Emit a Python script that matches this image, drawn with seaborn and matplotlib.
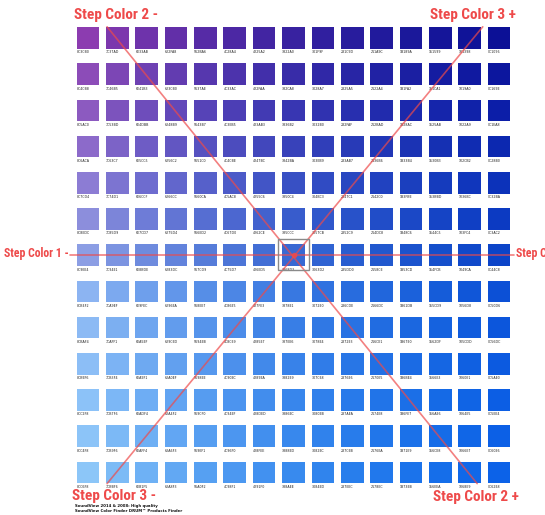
import matplotlib
matplotlib.use("Agg")
import matplotlib.pyplot as plt
import seaborn as sns
from matplotlib import font_manager
from matplotlib.patches import Rectangle

# Swatch colours, one list per row (top to bottom), 15 columns each
row_00 = ["#8C3CB0", "#7C37AD", "#6E33AB", "#622FA8", "#562BA6", "#4C28A4", "#4225A2", "#3822A0", "#301F9F", "#281C9D", "#211A9C", "#1B189A", "#151599", "#101398", "#0C1096"]
row_01 = ["#8C4CB8", "#7C46B5", "#6E41B3", "#623CB0", "#5637AE", "#4C33AC", "#422FAA", "#382CA8", "#3028A7", "#2825A5", "#2122A4", "#1B1FA2", "#151CA1", "#1019A0", "#0C169E"]
row_02 = ["#8C5AC0", "#7C53BD", "#6E4DBB", "#6248B9", "#5643B7", "#4C3EB5", "#423AB3", "#3836B2", "#3032B0", "#282FAF", "#212BAD", "#1B28AC", "#1525AB", "#1022A9", "#0C1EA8"]
row_03 = ["#8C6ACA", "#7C63C7", "#6E5CC5", "#6256C2", "#5651C0", "#4C4CBE", "#4247BC", "#3842BA", "#303EB9", "#283AB7", "#2136B6", "#1B33B4", "#1530B3", "#102CB2", "#0C28B0"]
row_04 = ["#8C7CD4", "#7C74D1", "#6E6CCF", "#6266CC", "#5660CA", "#4C5AC8", "#4255C6", "#3850C4", "#304BC3", "#2847C1", "#2142C0", "#1B3FBE", "#153BBD", "#1036BC", "#0C32BA"]
row_05 = ["#8C8EDC", "#7C85D9", "#6E7CD7", "#6275D4", "#566ED2", "#4C67D0", "#4262CE", "#385CCC", "#3057CB", "#2852C9", "#214DC8", "#1B48C6", "#1544C5", "#103FC4", "#0C3AC2"]
row_06 = ["#8C9EE4", "#7C94E1", "#6E8BDE", "#6283DC", "#567CD9", "#4C75D7", "#426ED5", "#3868D3", "#3063D2", "#285DD0", "#2158CE", "#1B53CD", "#154FCB", "#1049CA", "#0C44C8"]
row_07 = ["#8CB4F2", "#7CA9EF", "#6E9FEC", "#6296EA", "#568EE7", "#4C86E5", "#427FE3", "#3878E1", "#3072E0", "#286CDE", "#2166DC", "#1B61DB", "#155CD9", "#1056D8", "#0C50D6"]
row_08 = ["#8CBAF4", "#7CAFF1", "#6EA5EF", "#629CED", "#5694EB", "#4C8CE9", "#4285E7", "#387EE6", "#3078E4", "#2872E3", "#216CE1", "#1B67E0", "#1562DF", "#105CDD", "#0C56DC"]
row_09 = ["#8CBEF6", "#7CB3F4", "#6EA9F1", "#62A0EF", "#5698EE", "#4C90EC", "#4289EA", "#3882E9", "#307CE8", "#2876E6", "#2170E5", "#1B6BE4", "#1566E3", "#1060E1", "#0C5AE0"]
row_10 = ["#8CC2F8", "#7CB7F6", "#6EADF4", "#62A4F2", "#569CF0", "#4C94EF", "#428DED", "#3886EC", "#3080EB", "#287AEA", "#2174E8", "#1B6FE7", "#156AE6", "#1064E5", "#0C5EE4"]
row_11 = ["#8CC4F8", "#7CB9F6", "#6EAFF4", "#62A6F3", "#569EF1", "#4C96F0", "#428FEE", "#3888ED", "#3082EC", "#287CEB", "#2176EA", "#1B71E9", "#156CE8", "#1066E7", "#0C60E6"]
row_12 = ["#8CC6F8", "#7CBBF6", "#6EB1F5", "#62A8F3", "#56A0F2", "#4C98F1", "#4291F0", "#388AEE", "#3084ED", "#287EEC", "#2178EC", "#1B73EB", "#156EEA", "#1068E9", "#0C62E8"]

swatch_rows = [row_00, row_01, row_02, row_03, row_04, row_05, row_06,
               row_07, row_08, row_09, row_10, row_11, row_12]

center_row, center_col = 6, 7

step_labels = {
    "c2_minus": "Step Color 2 -",
    "c3_plus": "Step Color 3 +",
    "c1_minus": "Step Color 1 -",
    "c1_plus": "Step Color 1 +",
    "c3_minus": "Step Color 3 -",
    "c2_plus": "Step Color 2 +",
}
footer_lines = ["SoundView 2014 & 2008: High quality",
                "SoundView Color Finder DRUM\u2122 Products Finder"]

sns.set_theme(style="white")

# prefer a narrow bold face for the step labels if one is installed
installed = {f.name for f in font_manager.fontManager.ttflist}
narrow = [n for n in ("Liberation Sans Narrow", "Roboto Condensed", "Open Sans Condensed",
                      "DejaVu Sans Condensed", "Noto Sans Condensed") if n in installed]
if narrow:
    label_font = [narrow[0], "DejaVu Sans"]
    big, small = 11, 8.5
else:
    label_font = ["Liberation Sans", "DejaVu Sans"]
    big, small = 10, 7.8
red = "#EE4A4A"

fig = plt.figure(figsize=(5.45, 5.15), dpi=100)
fig.patch.set_facecolor("white")
ax = fig.add_axes([0, 0, 1, 1])
ax.set_axis_off()

# swatch grid
sw_w, sw_h = 0.77, 0.6
for i, row in enumerate(swatch_rows):
    cols = list(range(len(row)))
    ax.bar(cols, sw_h, bottom=[i - sw_h / 2] * len(row), width=sw_w,
           color=row, edgecolor="none", zorder=2)
    for j, hexcol in enumerate(row):
        ax.text(j - sw_w / 2, i + sw_h / 2 + 0.04, hexcol.lstrip("#"),
                fontsize=2.3, color="#222222", ha="left", va="top", zorder=3)

ax.set_xlim(-2.997, 15.565)
ax.set_ylim(13.177, -1.050)

# guide lines through the centre swatch
dx, dy = 6.35, 6.31
ax.plot([center_col - dx, center_col + dx * 0.985], [center_row - dy, center_row + dy],
        color=red, lw=1.2, alpha=0.7, zorder=4)
ax.plot([center_col - dx, center_col + dx * 1.015], [center_row + dy, center_row - dy],
        color=red, lw=1.2, alpha=0.7, zorder=4)
ax.plot([-0.62, 14.52], [center_row, center_row], color=red, lw=1.2, alpha=0.7, zorder=4)

ax.add_patch(Rectangle((center_col - 0.53, center_row - 0.46), 1.06, 0.88,
                       fill=False, edgecolor="#8A8A8A", lw=1.0, zorder=5))
ax.plot([center_col], [center_row], marker="o", ms=3, color=red, alpha=0.8, zorder=6)

W, H = 545, 515
def ftext(px, py, s, size, **kw):
    fig.text(px / W, 1 - py / H, s, fontsize=size, ha="left", va="center", **kw)

ftext(74, 15, step_labels["c2_minus"], big, color=red, fontweight="bold", family=label_font)
ftext(430, 15, step_labels["c3_plus"], big, color=red, fontweight="bold", family=label_font)
ftext(4, 253, step_labels["c1_minus"], small, color=red, fontweight="bold", family=label_font)
ftext(516, 253, step_labels["c1_plus"], small, color=red, fontweight="bold", family=label_font)
ftext(72, 496, step_labels["c3_minus"], big, color=red, fontweight="bold", family=label_font)
ftext(433, 497, step_labels["c2_plus"], big, color=red, fontweight="bold", family=label_font)

ftext(75, 506, footer_lines[0], 2.8, color="#111111", fontweight="bold")
ftext(75, 511, footer_lines[1], 2.8, color="#111111", fontweight="bold")

fig.savefig("out.png", dpi=100, facecolor="white")
